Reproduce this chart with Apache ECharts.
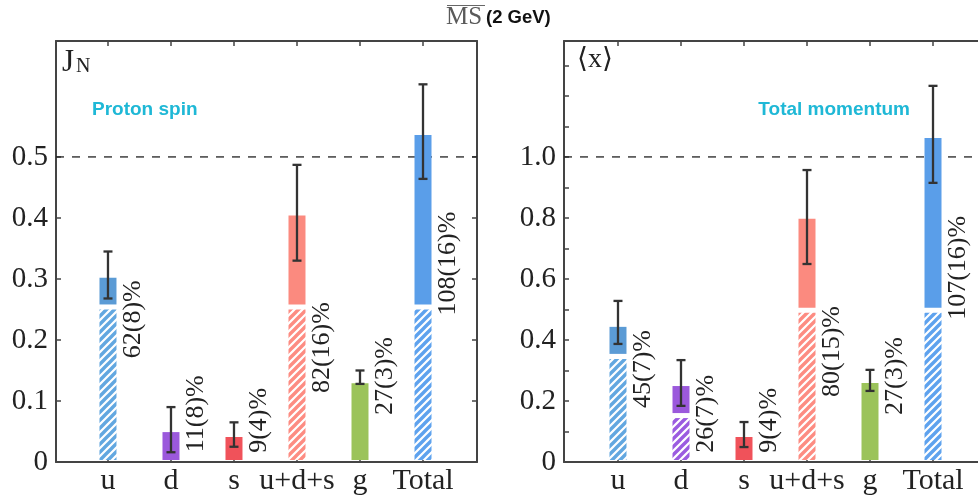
<!DOCTYPE html>
<html>
<head>
<meta charset="utf-8">
<script src="https://cdn.jsdelivr.net/npm/echarts@6/dist/echarts.min.js"></script>
<style>html,body{margin:0;padding:0;background:#fff}#c{width:978px;height:497px}</style>
</head>
<body>
<div id="c"></div>
<script>
// ---------------- data ----------------
const categories = ['u', 'd', 's', 'u+d+s', 'g', 'Total'];

// Proton spin J_N
const spinHatch   = [0.25, 0, 0, 0.25, 0, 0.25];
const spinTop     = [0.302, 0.049, 0.041, 0.404, 0.129, 0.536];
const spinErrLow  = [0.268, 0.016, 0.025, 0.330, 0.128, 0.464];
const spinErrHigh = [0.345, 0.090, 0.065, 0.487, 0.150, 0.619];
const spinLabels  = ['62(8)%', '11(8)%', '9(4)%', '82(16)%', '27(3)%', '108(16)%'];
const spinLabelAt = [0.170, 0.016, 0.015, 0.113, 0.077, 0.240];
const spinRef = 0.5;
const spinTicks = [0, 0.1, 0.2, 0.3, 0.4, 0.5];
const spinTickLabels = [0, 0.1, 0.2, 0.3, 0.4, 0.5];

// Total momentum <x>
const momHatch   = [0.338, 0.144, 0, 0.489, 0, 0.489];
const momTop     = [0.443, 0.249, 0.082, 0.797, 0.259, 1.062];
const momErrLow  = [0.387, 0.184, 0.049, 0.649, 0.233, 0.915];
const momErrHigh = [0.528, 0.334, 0.131, 0.957, 0.302, 1.233];
const momLabels  = ['45(7)%', '26(7)%', '9(4)%', '80(15)%', '27(3)%', '107(16)%'];
const momLabelAt = [0.177, 0.030, 0.030, 0.213, 0.154, 0.466];
const momRef = 1.0;
const momTicks = [0, 0.1, 0.2, 0.3, 0.4, 0.5, 0.6, 0.7, 0.8, 0.9, 1.0, 1.1, 1.2, 1.3];
const momTickLabels = [0, 0.2, 0.4, 0.6, 0.8, 1.0];

// ---------------- styles ----------------
const solidColors = ['#5b9bd5', '#9b59dc', '#f0525a', '#fb8a7f', '#9bc35a', '#5a9ee9'];
const hatchColors = ['#62a7e0', '#9b5be0', '#f0525a', '#fd8c82', '#9bc35a', '#5ea2ee'];
const SERIF = 'Liberation Serif';
const SANS = 'Liberation Sans';
const FRAME = '#444';
const catIdx = categories.map((c, i) => i);

function stripePattern(color) {
  const c = document.createElement('canvas');
  c.width = 8; c.height = 8;
  const ctx = c.getContext('2d');
  ctx.fillStyle = '#fff';
  ctx.fillRect(0, 0, 8, 8);
  ctx.strokeStyle = color;
  ctx.lineWidth = 3.4;
  ctx.beginPath();
  ctx.moveTo(-4, 4); ctx.lineTo(4, -4);
  ctx.moveTo(-1, 9); ctx.lineTo(9, -1);
  ctx.moveTo(4, 12); ctx.lineTo(12, 4);
  ctx.stroke();
  return c;
}
const patterns = hatchColors.map(stripePattern);

const chart = echarts.init(document.getElementById('c'), null, { renderer: 'canvas' });

function xAxesFor(gridIndex, min, max) {
  const common = {
    type: 'value', gridIndex, min, max,
    splitLine: { show: false },
    axisLine: { show: true, onZero: false, lineStyle: { color: FRAME, width: 2 } },
    axisTick: { show: true, inside: true, length: 5, customValues: catIdx, lineStyle: { color: FRAME, width: 1.5 } }
  };
  return [
    Object.assign({}, common, {
      position: 'bottom',
      axisLabel: {
        show: true, customValues: catIdx, margin: 4,
        formatter: v => categories[Math.round(v)],
        fontFamily: SERIF, fontSize: 30, color: '#222'
      }
    }),
    Object.assign({}, common, { position: 'top', axisLabel: { show: false } })
  ];
}

function yAxesFor(gridIndex, max, ticks, labels, fmt, showRight) {
  const common = {
    type: 'value', gridIndex, min: 0, max,
    splitLine: { show: false },
    axisLine: { show: true, onZero: false, lineStyle: { color: FRAME, width: 2 } },
    axisTick: { show: true, inside: true, length: 5, customValues: ticks, lineStyle: { color: FRAME, width: 1.5 } }
  };
  return [
    Object.assign({}, common, {
      position: 'left',
      axisLabel: { show: true, customValues: labels, margin: 8, formatter: fmt,
        fontFamily: SERIF, fontSize: 29, color: '#222' }
    }),
    Object.assign({}, common, { position: 'right', show: showRight, axisLabel: { show: false } })
  ];
}

function barRender(params, api) {
  const i = Math.round(api.value(0));
  const h = api.value(1), t = api.value(2);
  const base = api.coord([i, 0]);
  const w = 17;
  const y0 = base[1] - 2;
  const children = [];
  let solidBottom = y0;
  if (h > 0) {
    const yh = api.coord([i, h])[1];
    children.push({ type: 'rect', shape: { x: base[0] - w / 2, y: yh, width: w, height: y0 - yh },
      style: { fill: { image: patterns[i], repeat: 'repeat' } } });
    solidBottom = yh - 5;
  }
  const yt = api.coord([i, t])[1];
  children.push({ type: 'rect', shape: { x: base[0] - w / 2, y: yt, width: w, height: solidBottom - yt },
    style: { fill: solidColors[i] } });
  return { type: 'group', children };
}

function errRender(params, api) {
  const i = api.value(0);
  const lo = api.coord([i, api.value(1)]);
  const hi = api.coord([i, api.value(2)]);
  const cap = 4.5;
  const st = { stroke: '#333', lineWidth: 2.3 };
  return { type: 'group', children: [
    { type: 'line', shape: { x1: lo[0], y1: lo[1], x2: hi[0], y2: hi[1] }, style: st },
    { type: 'line', shape: { x1: lo[0] - cap, y1: lo[1], x2: lo[0] + cap, y2: lo[1] }, style: st },
    { type: 'line', shape: { x1: hi[0] - cap, y1: hi[1], x2: hi[0] + cap, y2: hi[1] }, style: st }
  ] };
}

function labelRenderFor(texts) {
  return function (params, api) {
    const i = Math.round(api.value(0));
    const p = api.coord([i, api.value(1)]);
    return { type: 'text', x: p[0] + 25, y: p[1], rotation: Math.PI / 2,
      style: { text: texts[i], fill: '#222', fontSize: 26, fontFamily: SERIF, align: 'left', verticalAlign: 'middle' } };
  };
}

function panelSeries(xi, yi, xmin, xmax, hatch, top, lo, hi, texts, at, ref) {
  return [
    { type: 'line', xAxisIndex: xi, yAxisIndex: yi, silent: true, z: 1, symbol: 'none',
      data: [[xmin, ref], [xmax, ref]],
      lineStyle: { color: '#222', width: 1.3, type: [8, 8] } },
    { type: 'custom', xAxisIndex: xi, yAxisIndex: yi, z: 2, silent: true,
      encode: { x: 0, y: [1, 2] },
      data: categories.map((c, i) => [i, hatch[i], top[i]]), renderItem: barRender },
    { type: 'custom', xAxisIndex: xi, yAxisIndex: yi, z: 3, silent: true,
      encode: { x: 0, y: [1, 2] },
      data: categories.map((c, i) => [i, lo[i], hi[i]]), renderItem: errRender },
    { type: 'custom', xAxisIndex: xi, yAxisIndex: yi, z: 3, silent: true,
      encode: { x: 0, y: 1 },
      data: categories.map((c, i) => [i, at[i]]), renderItem: labelRenderFor(texts) }
  ];
}

const L = { min: -0.825, max: 5.857 };
const R = { min: -0.857, max: 5.857 };

const option = {
  animation: false,
  backgroundColor: '#fff',
  grid: [
    { left: 56, top: 41, width: 421, height: 421, containLabel: false, outerBoundsMode: 'none' },
    { left: 564, top: 41, width: 423, height: 421, containLabel: false, outerBoundsMode: 'none' }
  ],
  xAxis: [].concat(xAxesFor(0, L.min, L.max), xAxesFor(1, R.min, R.max)),
  yAxis: [].concat(
    yAxesFor(0, 0.69, spinTicks, spinTickLabels, v => (v === 0 ? '0' : String(v)), true),
    yAxesFor(1, 1.38, momTicks, momTickLabels, v => (v === 0 ? '0' : v.toFixed(1)), false)
  ),
  series: [].concat(
    panelSeries(0, 0, L.min, L.max, spinHatch, spinTop, spinErrLow, spinErrHigh, spinLabels, spinLabelAt, spinRef),
    panelSeries(2, 2, R.min, R.max, momHatch, momTop, momErrLow, momErrHigh, momLabels, momLabelAt, momRef)
  ),
  graphic: [
    { type: 'text', x: 446, y: 17, style: { text: 'MS', fontSize: 25, fontFamily: SERIF, fill: '#5a5a5a', align: 'left', verticalAlign: 'middle' } },
    { type: 'line', shape: { x1: 447, y1: 5.5, x2: 485, y2: 5.5 }, style: { stroke: '#666', lineWidth: 1.2 } },
    { type: 'text', x: 486, y: 18, style: { text: '(2 GeV)', fontSize: 18.5, fontWeight: 'bold', fontFamily: SANS, fill: '#111', align: 'left', verticalAlign: 'middle' } },
    { type: 'text', x: 62, y: 63, style: { text: 'J', fontSize: 31, fontFamily: SERIF, fill: '#222', align: 'left', verticalAlign: 'middle' } },
    { type: 'text', x: 76, y: 67, style: { text: 'N', fontSize: 20, fontFamily: SERIF, fill: '#222', align: 'left', verticalAlign: 'middle' } },
    { type: 'text', x: 577, y: 60, style: { text: '\u27E8x\u27E9', fontSize: 28, fontFamily: SERIF + ', DejaVu Serif', fill: '#222', align: 'left', verticalAlign: 'middle' } },
    { type: 'text', x: 92, y: 110, style: { text: 'Proton spin', fontSize: 19, fontWeight: 'bold', fontFamily: SANS, fill: '#1fb8d6', align: 'left', verticalAlign: 'middle' } },
    { type: 'text', x: 910, y: 110, style: { text: 'Total momentum', fontSize: 19, fontWeight: 'bold', fontFamily: SANS, fill: '#1fb8d6', align: 'right', verticalAlign: 'middle' } }
  ]
};
chart.setOption(option);
</script>
</body>
</html>
